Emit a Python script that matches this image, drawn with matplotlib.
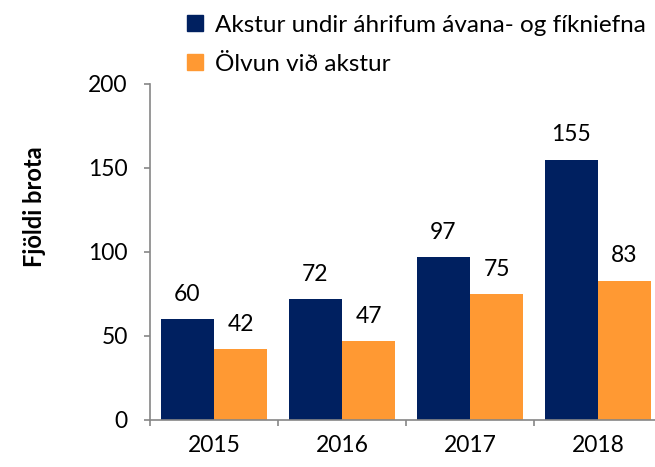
import numpy as np
import matplotlib
matplotlib.use("Agg")
from matplotlib import pyplot as plt
from matplotlib.lines import Line2D

plt.rcParams['font.family'] = ['Lato', 'DejaVu Sans']

years = ['2015', '2016', '2017', '2018']
fikniefni = [60, 72, 97, 155]
olvun = [42, 47, 75, 83]
series_names = ['Akstur undir áhrifum ávana- og fíkniefna', 'Ölvun við akstur']
ylabel = 'Fjöldi brota'

navy = '#002060'
orange = '#FF9933'
grey = '#868686'

fig = plt.figure(figsize=(6.55, 4.67), dpi=100)
ax = fig.add_axes([150/655, 1 - 420/467, 512/655, 336/467])

x = np.arange(len(years))
w = 0.415
b1 = ax.bar(x - w/2, fikniefni, w, color=navy)
b2 = ax.bar(x + w/2, olvun, w, color=orange)

for bars, vals in ((b1, fikniefni), (b2, olvun)):
    for r, v in zip(bars, vals):
        ax.annotate(str(v), (r.get_x() + r.get_width()/2, v), xytext=(0, 18),
                    textcoords='offset points', ha='center', va='center', fontsize=16.5)

ax.set_xlim(-0.5, len(years) - 0.5)
ax.set_ylim(0, 200)
ax.set_yticks([0, 50, 100, 150, 200])
ax.set_xticks(np.arange(len(years) + 1) - 0.5)
ax.set_xticklabels([])
ax.set_xticks(x, minor=True)
ax.set_xticklabels(years, minor=True, fontsize=16.5)
ax.tick_params(axis='x', which='major', length=4, color=grey, width=1.2, direction='out')
ax.tick_params(axis='x', which='minor', length=0, pad=11)
ax.tick_params(axis='y', length=4, color=grey, width=1.2, labelsize=16.5, pad=12)

for s in ['top', 'right']:
    ax.spines[s].set_visible(False)
for s in ['left', 'bottom']:
    ax.spines[s].set_color(grey)
    ax.spines[s].set_linewidth(1.2)

fig.text(35/655, 1 - 207/467, ylabel, rotation=90, ha='center', va='center',
         fontsize=17, fontweight='bold')

handles = [Line2D([], [], marker='s', linestyle='none', markersize=11, color=c)
           for c in (navy, orange)]
fig.legend(handles, series_names, loc='upper left', bbox_to_anchor=(176/655, 1 - 5/467),
           frameon=False, fontsize=17.5, handlelength=0.8, handletextpad=0.4,
           labelspacing=0.75, borderaxespad=0)

fig.savefig('out.png', dpi=100)
